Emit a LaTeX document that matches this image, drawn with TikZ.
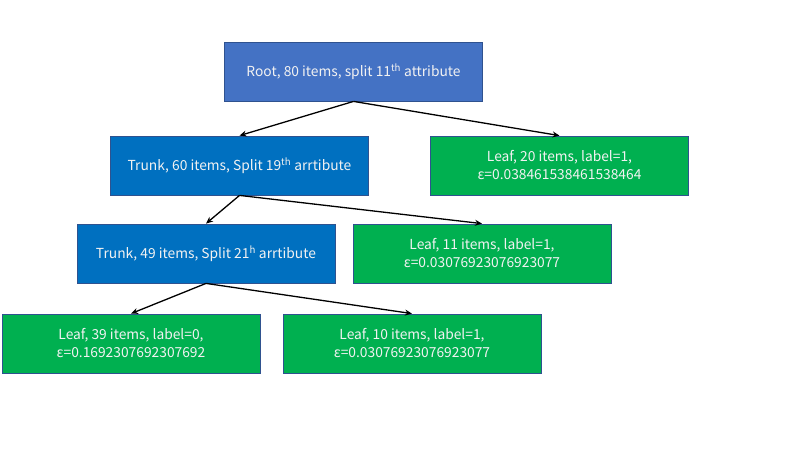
\documentclass[tikz,border=0pt]{standalone}
\usepackage{fontspec}
\setmainfont{Noto Sans CJK SC}
\usetikzlibrary{arrows.meta}
\definecolor{rootblue}{HTML}{4472C4}
\definecolor{trunkblue}{HTML}{0070C0}
\definecolor{leafgreen}{HTML}{00B050}
\definecolor{edgeblue}{HTML}{2F528F}
\definecolor{boxtext}{HTML}{F2F2F2}
\tikzset{
  box/.style={draw=edgeblue, line width=0.8pt, minimum width=258pt, minimum height=59pt,
    inner sep=0pt, text=boxtext, align=center, font=\fontsize{13.8}{18}\selectfont},
  rootbox/.style={box, fill=rootblue},
  trunkbox/.style={box, fill=trunkblue},
  leafbox/.style={box, fill=leafgreen},
  conn/.style={draw=black, line width=1.3pt, -{Stealth[length=7pt,width=6pt]}}
}
\begin{document}
\begin{tikzpicture}[x=1pt,y=-1pt]
\useasboundingbox (0,0) rectangle (800,450);
\node[rootbox] (root) at (353.5,71.5) {Root, 80 items, split 11\textsuperscript{th} attribute};
\node[trunkbox] (t1) at (239.5,165.5) {Trunk, 60 items, Split 19\textsuperscript{th} arrtibute};
\node[leafbox] (l20) at (559.5,165.5) {Leaf, 20 items, label=1,\\ε=0.038461538461538464};
\node[trunkbox] (t2) at (206,253.5) {Trunk, 49 items, Split 21\textsuperscript{h} arrtibute};
\node[leafbox] (l11) at (482,253.5) {Leaf, 11 items, label=1,\\ε=0.03076923076923077};
\node[leafbox] (l39) at (131,343.5) {Leaf, 39 items, label=0,\\ε=0.1692307692307692};
\node[leafbox] (l10) at (412,343.5) {Leaf, 10 items, label=1,\\ε=0.03076923076923077};
\draw[conn] (root.south) -- (t1.north);
\draw[conn] (root.south) -- (l20.north);
\draw[conn] (t1.south) -- (t2.north);
\draw[conn] (t1.south) -- (l11.north);
\draw[conn] (t2.south) -- (l39.north);
\draw[conn] (t2.south) -- (l10.north);
\end{tikzpicture}
\end{document}
